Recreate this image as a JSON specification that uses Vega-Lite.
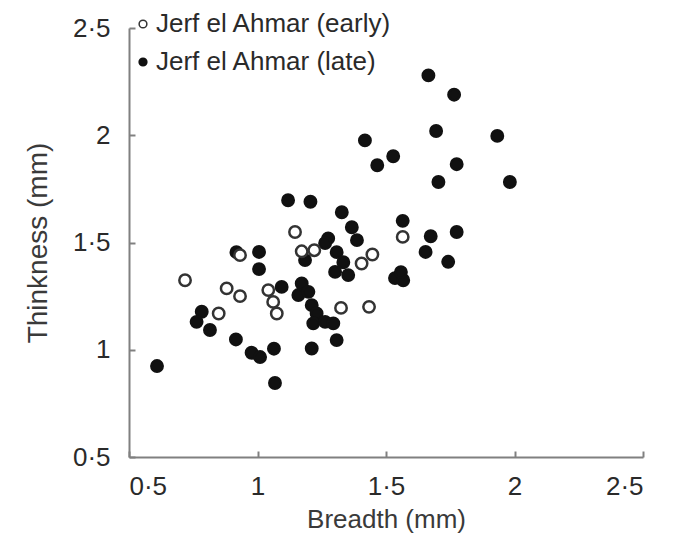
{
  "$schema": "https://vega.github.io/schema/vega-lite/v6.json",
  "autosize": "none",
  "width": 514,
  "height": 429,
  "padding": {"left": 129, "top": 28, "right": 54, "bottom": 84},
  "background": "white",
  "config": {
    "view": {"stroke": null},
    "font": "Liberation Sans",
    "axis": {
      "grid": false,
      "domainColor": "#808080",
      "domainWidth": 2,
      "tickColor": "#808080",
      "tickWidth": 2,
      "tickSize": -6,
      "labelFont": "Liberation Sans",
      "labelFontSize": 26,
      "labelColor": "#2a2a2a",
      "titleFont": "Liberation Sans",
      "titleFontSize": 26,
      "titleFontWeight": "normal",
      "titleColor": "#3a3a3a"
    }
  },
  "data": {
    "values": [
      {"breadth": 0.609, "thickness": 0.924, "period": "Jerf el Ahmar (late)"},
      {"breadth": 1.068, "thickness": 0.845, "period": "Jerf el Ahmar (late)"},
      {"breadth": 0.783, "thickness": 1.177, "period": "Jerf el Ahmar (late)"},
      {"breadth": 0.763, "thickness": 1.130, "period": "Jerf el Ahmar (late)"},
      {"breadth": 0.815, "thickness": 1.092, "period": "Jerf el Ahmar (late)"},
      {"breadth": 0.916, "thickness": 1.048, "period": "Jerf el Ahmar (late)"},
      {"breadth": 0.977, "thickness": 0.986, "period": "Jerf el Ahmar (late)"},
      {"breadth": 1.010, "thickness": 0.966, "period": "Jerf el Ahmar (late)"},
      {"breadth": 1.064, "thickness": 1.005, "period": "Jerf el Ahmar (late)"},
      {"breadth": 0.918, "thickness": 1.455, "period": "Jerf el Ahmar (late)"},
      {"breadth": 1.006, "thickness": 1.456, "period": "Jerf el Ahmar (late)"},
      {"breadth": 1.006, "thickness": 1.376, "period": "Jerf el Ahmar (late)"},
      {"breadth": 1.094, "thickness": 1.293, "period": "Jerf el Ahmar (late)"},
      {"breadth": 1.119, "thickness": 1.697, "period": "Jerf el Ahmar (late)"},
      {"breadth": 1.206, "thickness": 1.690, "period": "Jerf el Ahmar (late)"},
      {"breadth": 1.328, "thickness": 1.641, "period": "Jerf el Ahmar (late)"},
      {"breadth": 1.367, "thickness": 1.571, "period": "Jerf el Ahmar (late)"},
      {"breadth": 1.387, "thickness": 1.511, "period": "Jerf el Ahmar (late)"},
      {"breadth": 1.275, "thickness": 1.519, "period": "Jerf el Ahmar (late)"},
      {"breadth": 1.185, "thickness": 1.418, "period": "Jerf el Ahmar (late)"},
      {"breadth": 1.263, "thickness": 1.497, "period": "Jerf el Ahmar (late)"},
      {"breadth": 1.308, "thickness": 1.455, "period": "Jerf el Ahmar (late)"},
      {"breadth": 1.334, "thickness": 1.408, "period": "Jerf el Ahmar (late)"},
      {"breadth": 1.353, "thickness": 1.348, "period": "Jerf el Ahmar (late)"},
      {"breadth": 1.302, "thickness": 1.363, "period": "Jerf el Ahmar (late)"},
      {"breadth": 1.172, "thickness": 1.309, "period": "Jerf el Ahmar (late)"},
      {"breadth": 1.159, "thickness": 1.255, "period": "Jerf el Ahmar (late)"},
      {"breadth": 1.198, "thickness": 1.270, "period": "Jerf el Ahmar (late)"},
      {"breadth": 1.211, "thickness": 1.208, "period": "Jerf el Ahmar (late)"},
      {"breadth": 1.230, "thickness": 1.169, "period": "Jerf el Ahmar (late)"},
      {"breadth": 1.217, "thickness": 1.123, "period": "Jerf el Ahmar (late)"},
      {"breadth": 1.263, "thickness": 1.130, "period": "Jerf el Ahmar (late)"},
      {"breadth": 1.295, "thickness": 1.123, "period": "Jerf el Ahmar (late)"},
      {"breadth": 1.308, "thickness": 1.045, "period": "Jerf el Ahmar (late)"},
      {"breadth": 1.211, "thickness": 1.006, "period": "Jerf el Ahmar (late)"},
      {"breadth": 1.418, "thickness": 1.976, "period": "Jerf el Ahmar (late)"},
      {"breadth": 1.466, "thickness": 1.860, "period": "Jerf el Ahmar (late)"},
      {"breadth": 1.528, "thickness": 1.902, "period": "Jerf el Ahmar (late)"},
      {"breadth": 1.665, "thickness": 2.279, "period": "Jerf el Ahmar (late)"},
      {"breadth": 1.765, "thickness": 2.189, "period": "Jerf el Ahmar (late)"},
      {"breadth": 1.695, "thickness": 2.020, "period": "Jerf el Ahmar (late)"},
      {"breadth": 1.933, "thickness": 1.997, "period": "Jerf el Ahmar (late)"},
      {"breadth": 1.775, "thickness": 1.865, "period": "Jerf el Ahmar (late)"},
      {"breadth": 1.704, "thickness": 1.782, "period": "Jerf el Ahmar (late)"},
      {"breadth": 1.982, "thickness": 1.782, "period": "Jerf el Ahmar (late)"},
      {"breadth": 1.565, "thickness": 1.601, "period": "Jerf el Ahmar (late)"},
      {"breadth": 1.674, "thickness": 1.529, "period": "Jerf el Ahmar (late)"},
      {"breadth": 1.775, "thickness": 1.549, "period": "Jerf el Ahmar (late)"},
      {"breadth": 1.654, "thickness": 1.456, "period": "Jerf el Ahmar (late)"},
      {"breadth": 1.742, "thickness": 1.410, "period": "Jerf el Ahmar (late)"},
      {"breadth": 1.535, "thickness": 1.334, "period": "Jerf el Ahmar (late)"},
      {"breadth": 1.567, "thickness": 1.324, "period": "Jerf el Ahmar (late)"},
      {"breadth": 1.558, "thickness": 1.362, "period": "Jerf el Ahmar (late)"},
      {"breadth": 0.718, "thickness": 1.324, "period": "Jerf el Ahmar (early)"},
      {"breadth": 0.880, "thickness": 1.286, "period": "Jerf el Ahmar (early)"},
      {"breadth": 0.932, "thickness": 1.250, "period": "Jerf el Ahmar (early)"},
      {"breadth": 0.849, "thickness": 1.169, "period": "Jerf el Ahmar (early)"},
      {"breadth": 0.932, "thickness": 1.441, "period": "Jerf el Ahmar (early)"},
      {"breadth": 1.042, "thickness": 1.278, "period": "Jerf el Ahmar (early)"},
      {"breadth": 1.061, "thickness": 1.223, "period": "Jerf el Ahmar (early)"},
      {"breadth": 1.075, "thickness": 1.169, "period": "Jerf el Ahmar (early)"},
      {"breadth": 1.146, "thickness": 1.549, "period": "Jerf el Ahmar (early)"},
      {"breadth": 1.172, "thickness": 1.459, "period": "Jerf el Ahmar (early)"},
      {"breadth": 1.221, "thickness": 1.464, "period": "Jerf el Ahmar (early)"},
      {"breadth": 1.325, "thickness": 1.195, "period": "Jerf el Ahmar (early)"},
      {"breadth": 1.434, "thickness": 1.200, "period": "Jerf el Ahmar (early)"},
      {"breadth": 1.405, "thickness": 1.402, "period": "Jerf el Ahmar (early)"},
      {"breadth": 1.447, "thickness": 1.444, "period": "Jerf el Ahmar (early)"},
      {"breadth": 1.565, "thickness": 1.526, "period": "Jerf el Ahmar (early)"}
    ]
  },
  "mark": {"type": "point", "shape": "circle", "size": 130, "strokeWidth": 2.5, "opacity": 1},
  "encoding": {
    "x": {
      "field": "breadth", "type": "quantitative",
      "scale": {"domain": [0.5, 2.5], "nice": false, "zero": false},
      "axis": {
        "title": "Breadth (mm)",
        "values": [0.5, 1, 1.5, 2, 2.5],
        "format": "~g",
        "labelExpr": "replace(datum.label, '.', '·')",
        "labelPadding": 22,
        "titlePadding": 7
      }
    },
    "y": {
      "field": "thickness", "type": "quantitative",
      "scale": {"domain": [0.5, 2.5], "nice": false, "zero": false},
      "axis": {
        "title": "Thinkness (mm)",
        "values": [0.5, 1, 1.5, 2, 2.5],
        "format": "~g",
        "labelExpr": "replace(datum.label, '.', '·')",
        "labelPadding": 25,
        "titlePadding": 20,
        "titleFontSize": 28
      }
    },
    "fill": {
      "field": "period", "type": "nominal",
      "scale": {"domain": ["Jerf el Ahmar (early)", "Jerf el Ahmar (late)"], "range": ["#ffffff", "#111111"]},
      "legend": {
        "title": null,
        "orient": "none",
        "legendX": 1,
        "legendY": -17,
        "labelFont": "Liberation Sans",
        "labelFontSize": 26,
        "labelColor": "#2a2a2a",
        "labelLimit": 0,
        "symbolSize": 60,
        "symbolStrokeWidth": 1.5,
        "rowPadding": 12,
        "labelOffset": 0
      }
    },
    "stroke": {
      "field": "period", "type": "nominal",
      "scale": {"domain": ["Jerf el Ahmar (early)", "Jerf el Ahmar (late)"], "range": ["#333333", "#111111"]}
    }
  }
}
